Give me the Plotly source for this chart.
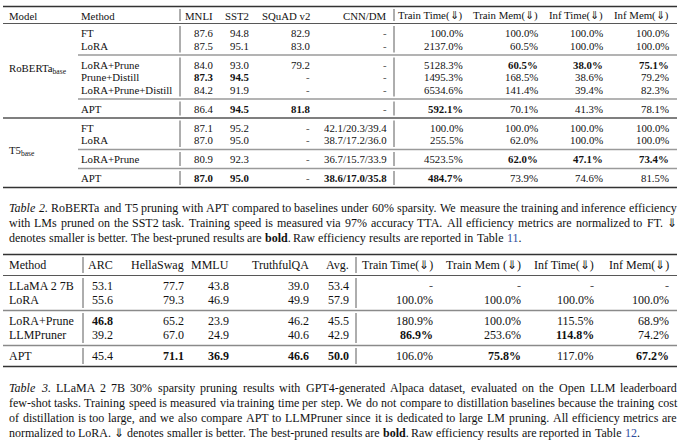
import re
import plotly.graph_objects as go

FONT = "Liberation Serif, Times New Roman, serif"
INK = "#111111"
LINK = "#2f4ea0"

# ---------------- Table 2 data ----------------
t2_header = ["Model", "Method", "MNLI", "SST2", "SQuAD v2", "CNN/DM",
             "Train Time(⇓)", "Train Mem(⇓)", "Inf Time(⇓)", "Inf Mem(⇓)"]
t2_models = ["RoBERTa<sub>base</sub>", "T5<sub>base</sub>"]
t2_groups = [[2, 3, 1], [2, 1, 1]]
t2_methods = ["FT", "LoRA", "LoRA+Prune", "Prune+Distill", "LoRA+Prune+Distill", "APT",
              "FT", "LoRA", "LoRA+Prune", "APT"]
t2_mnli = ["87.6", "87.5", "84.0", "87.3", "84.2", "86.4", "87.1", "87.0", "80.9", "87.0"]
t2_sst2 = ["94.8", "95.1", "93.0", "94.5", "91.9", "94.5", "95.2", "95.0", "92.3", "95.0"]
t2_squad = ["82.9", "83.0", "79.2", "-", "-", "81.8", "-", "-", "-", "-"]
t2_cnndm = ["-", "-", "-", "-", "-", "-",
            "42.1/20.3/39.4", "38.7/17.2/36.0", "36.7/15.7/33.9", "38.6/17.0/35.8"]
t2_train_time = ["100.0%", "2137.0%", "5128.3%", "1495.3%", "6534.6%", "592.1%",
                 "100.0%", "255.5%", "4523.5%", "484.7%"]
t2_train_mem = ["100.0%", "60.5%", "60.5%", "168.5%", "141.4%", "70.1%",
                "100.0%", "62.0%", "62.0%", "73.9%"]
t2_inf_time = ["100.0%", "100.0%", "38.0%", "38.6%", "39.4%", "41.3%",
               "100.0%", "100.0%", "47.1%", "74.6%"]
t2_inf_mem = ["100.0%", "100.0%", "75.1%", "79.2%", "82.3%", "78.1%",
              "100.0%", "100.0%", "73.4%", "81.5%"]
# bold cells: row -> indices of the metric columns
t2_bold = {2: [5, 6, 7], 3: [0, 1], 5: [1, 2, 4], 8: [5, 6, 7], 9: [0, 1, 3, 4]}

# ---------------- Table 3 data ----------------
t3_header = ["Method", "ARC", "HellaSwag", "MMLU", "TruthfulQA", "Avg.",
             "Train Time(⇓)", "Train Mem (⇓)", "Inf Time(⇓)", "Inf Mem(⇓)"]
t3_groups = [2, 2, 1]
t3_methods = ["LLaMA 2 7B", "LoRA", "LoRA+Prune", "LLMPruner", "APT"]
t3_arc = ["53.1", "55.6", "46.8", "39.2", "45.4"]
t3_hellaswag = ["77.7", "79.3", "65.2", "67.0", "71.1"]
t3_mmlu = ["43.8", "46.9", "23.9", "24.9", "36.9"]
t3_truthfulqa = ["39.0", "49.9", "46.2", "40.6", "46.6"]
t3_avg = ["53.4", "57.9", "45.5", "42.9", "50.0"]
t3_train_time = ["-", "100.0%", "180.9%", "86.9%", "106.0%"]
t3_train_mem = ["-", "100.0%", "100.0%", "253.6%", "75.8%"]
t3_inf_time = ["-", "100.0%", "115.5%", "114.8%", "117.0%"]
t3_inf_mem = ["-", "100.0%", "68.9%", "74.2%", "67.2%"]
t3_bold = {2: [0], 3: [5, 7], 4: [1, 2, 3, 4, 6, 8]}

caption2 = [
    "<i>Table</i> <i>2.</i> RoBERTa and T5 pruning with APT compared to baselines under 60% sparsity. "
    "We measure the training and inference efficiency",
    "with LMs pruned on the SST2 task. Training speed is measured via 97% accuracy TTA. "
    "All efficiency metrics are normalized to FT. ⇓",
    "denotes smaller is better. The best-pruned results are <b>bold</b>. "
    "Raw efficiency results are reported in Table {11}.",
]
caption3 = [
    "<i>Table</i> <i>3.</i> LLaMA 2 7B 30% sparsity pruning results with GPT4-generated Alpaca dataset, "
    "evaluated on the Open LLM leaderboard",
    "few-shot tasks. Training speed is measured via training time per step. "
    "We do not compare to distillation baselines because the training cost",
    "of distillation is too large, and we also compare APT to LLMPruner since it is dedicated "
    "to large LM pruning. All efficiency metrics are",
    "normalized to LoRA. ⇓ denotes smaller is better. The best-pruned results are <b>bold</b>. "
    "Raw efficiency results are reported in Table {12}.",
]

# approx Times widths (1/1000 em) for justifying caption lines
_W = {}
for chars, w in [(" ,.", 250), ("ijlt:;/", 278), ("fr()-I!'", 333), ("sJ", 389),
                 ("acez?", 444), ("bdghknopquvxy0123456789*", 500), ("FPS", 556),
                 ("+=<>", 564), ("ELTZ", 611), ("BCR", 667), ("ADGHKNOQUVXYw", 722),
                 ("m&", 778), ("%", 833), ("M", 889), ("W", 944), ("⇓", 800)]:
    for c in chars:
        _W[c] = w


def text_width(word, size):
    plain = re.sub(r"<[^>]+>", "", word).replace("{", "").replace("}", "")
    w = sum(_W.get(c, 500) for c in plain) / 1000 * size
    if "<b>" in word:
        w *= 1.06
    return w


fig = go.Figure()


def txt(x, y, s, size, anchor="left", color=INK):
    fig.add_annotation(x=x, y=y, text=s, showarrow=False, xanchor=anchor, yanchor="middle",
                       borderpad=0, font=dict(family=FONT, size=size, color=color))


def hline(y, x0, x1, color, width):
    fig.add_shape(type="line", x0=x0, x1=x1, y0=y, y1=y, xref="x", yref="y",
                  line=dict(color=color, width=width))


def vline(x, y0, y1):
    fig.add_shape(type="line", x0=x, x1=x, y0=y0, y1=y1, xref="x", yref="y",
                  line=dict(color="#333333", width=0.8))


def layout_rows(top, head_gap, head_rule, gap, pitch, groups):
    header_y = top + head_gap
    rules = [top, header_y + head_rule]
    rows = []
    for g in groups:
        y = rules[-1] + gap
        for k in range(g):
            rows.append(y + k * pitch)
        rules.append(rows[-1] + gap)
    return header_y, rows, rules


def draw_caption(lines, y0, pitch, size, x_left=8, x_right=676):
    for i, line in enumerate(lines):
        words = line.split(" ")
        widths = [text_width(w, size) for w in words]
        if i == len(lines) - 1:
            gap = 0.25 * size
        else:
            gap = max((x_right - x_left - sum(widths)) / (len(words) - 1), 0.15 * size)
        x = x_left
        for w, wd in zip(words, widths):
            s = re.sub(r"\{([^}]*)\}", r"<span style='color:%s'>\1</span>" % LINK, w)
            txt(x, y0 + i * pitch, s, size)
            x += wd + gap


# ---------------- Table 2 ----------------
fs2 = 10.8
t2_cols = [t2_mnli, t2_sst2, t2_squad, t2_cnndm, t2_train_time, t2_train_mem, t2_inf_time, t2_inf_mem]
t2_right = [214, 250, 311, 388, 464, 539, 604, 670]
flat_groups = [g for m in t2_groups for g in m]
hy, rows2, rules2 = layout_rows(6.5, 9, 8, 9.5, 12.5, flat_groups)

txt(8, hy, t2_header[0], fs2)
txt(80, hy, t2_header[1], fs2)
for h, xr in zip(t2_header[2:], t2_right):
    txt(xr, hy, h, fs2, "right")

for r, y in enumerate(rows2):
    txt(80, y, t2_methods[r], fs2)
    for c, (col, xr) in enumerate(zip(t2_cols, t2_right)):
        s = col[r]
        if c in t2_bold.get(r, []):
            s = "<b>%s</b>" % s
        txt(xr, y, s, fs2, "right", "#555555" if s == "-" else INK)

# model labels centred on their row blocks
start = 0
for m, groups in zip(t2_models, t2_groups):
    n = sum(groups)
    txt(8, (rows2[start] + rows2[start + n - 1]) / 2 - 2, m, fs2)
    start += n

# rules
model_ends = set()
acc = 0
for groups in t2_groups:
    acc += len(groups)
    model_ends.add(acc)
for i, y in enumerate(rules2):
    if i == 0 or i == len(rules2) - 1:
        hline(y, 3, 677, "#333333", 1.4)
    elif i == 1:
        hline(y, 3, 677, "#444444", 0.9)
    elif (i - 1) in model_ends:
        hline(y, 3, 677, "#555555", 1.3)
    else:
        hline(y, 78, 677, "#9a9a9a", 1.3)
for a, b in zip(rules2[:-1], rules2[1:]):
    vline(180, a + 2.5, b - 2.5)
    vline(394, a + 2.5, b - 2.5)

draw_caption(caption2, 208, 15, 12)

# ---------------- Table 3 ----------------
fs3 = 12
t3_cols = [t3_arc, t3_hellaswag, t3_mmlu, t3_truthfulqa, t3_avg,
           t3_train_time, t3_train_mem, t3_inf_time, t3_inf_mem]
t3_right = [114, 185, 230, 310, 350, 434, 522, 595, 670]
hy3, rows3, rules3 = layout_rows(254.5, 10.5, 10.5, 10.5, 14, t3_groups)

txt(8, hy3, t3_header[0], fs3)
for h, xr in zip(t3_header[1:], t3_right):
    txt(xr, hy3, h, fs3, "right")
for r, y in enumerate(rows3):
    txt(8, y, t3_methods[r], fs3)
    for c, (col, xr) in enumerate(zip(t3_cols, t3_right)):
        s = col[r]
        if c in t3_bold.get(r, []):
            s = "<b>%s</b>" % s
        txt(xr, y, s, fs3, "right", "#555555" if s == "-" else INK)

for i, y in enumerate(rules3):
    if i == 0 or i == len(rules3) - 1:
        hline(y, 3, 677, "#333333", 1.4)
    elif i == 1:
        hline(y, 3, 677, "#444444", 0.9)
    else:
        hline(y, 3, 677, "#8a8a8a", 1.3)
for a, b in zip(rules3[:-1], rules3[1:]):
    vline(83, a + 2.5, b - 2.5)
    vline(356, a + 2.5, b - 2.5)

draw_caption(caption3, 388, 15, 12)

fig.update_layout(
    width=680, height=444,
    margin=dict(l=0, r=0, t=0, b=0),
    paper_bgcolor="white", plot_bgcolor="white",
    xaxis=dict(range=[0, 680], visible=False, fixedrange=True),
    yaxis=dict(range=[444, 0], visible=False, fixedrange=True),
    showlegend=False,
)
# page body has an 8px default margin; drop it so the figure sits at the window corner
fig.write_html("out.html", config={"displayModeBar": False},
               post_script="document.body.style.margin='0px';")
